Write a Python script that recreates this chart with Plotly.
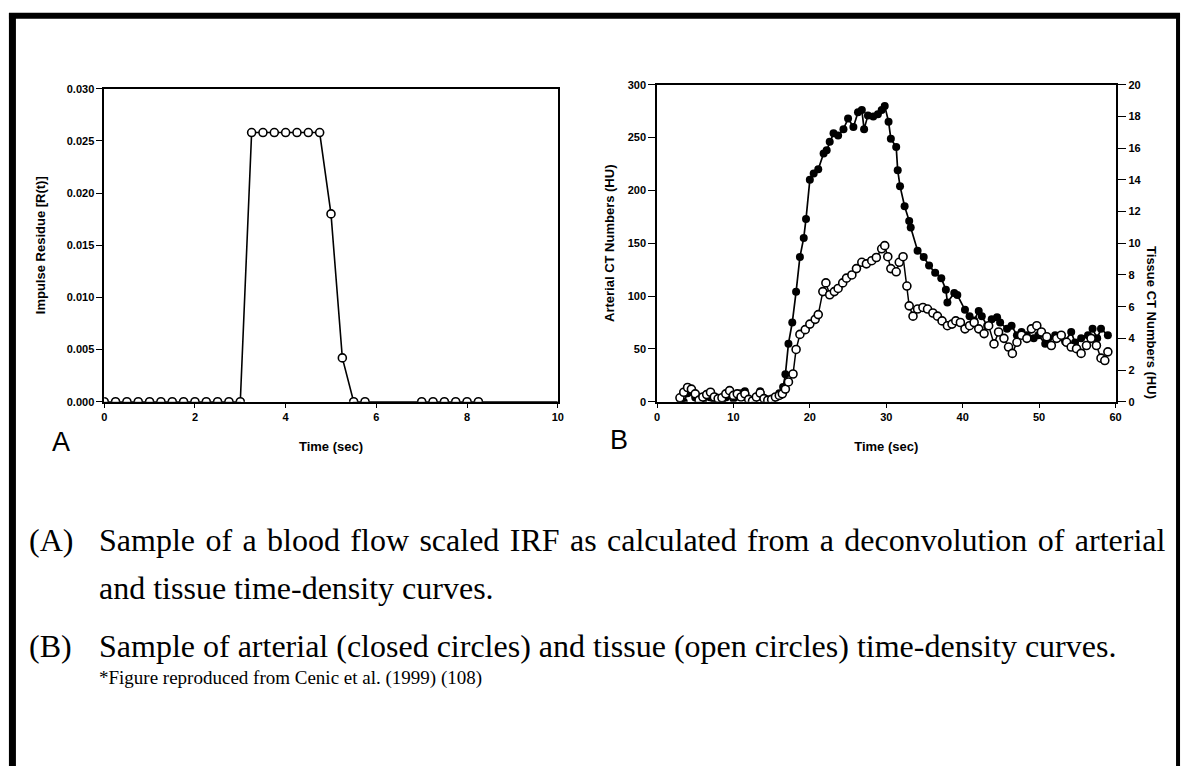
import plotly.graph_objects as go

# Panel A: impulse residue function (blood flow scaled)
irf_t = [0.0, 0.25, 0.5, 0.75, 1.0, 1.25, 1.5, 1.75, 2.0, 2.25, 2.5, 2.75, 3.0,
         3.25, 3.5, 3.75, 4.0, 4.25, 4.5, 4.75,
         5.0, 5.25, 5.5, 5.75,
         7.0, 7.25, 7.5, 7.75, 8.0, 8.25]
irf_r = [0.0] * 13 + [0.0258] * 7 + [0.0180, 0.0042, 0.0, 0.0] + [0.0] * 6
irf_line_end = 10.0

# Panel B: arterial (closed) and tissue (open) time-density curves
art_t = [3.0, 3.5, 4.0, 4.5, 5.0, 5.5, 6.0, 6.5, 7.0, 7.5, 8.0, 8.5, 9.0, 9.5,
         10.0, 10.5, 11.0, 11.5, 12.0, 12.5, 13.0, 13.5, 14.0, 14.5, 15.0, 15.5,
         16.0, 16.5, 16.8, 17.2, 17.7, 18.2, 18.7, 19.2, 19.5, 20.0, 20.5, 21.1,
         21.8, 22.2, 22.6, 23.1, 23.7, 24.4, 25.0, 25.7, 26.3, 26.8, 27.1, 27.6,
         28.3, 28.9, 29.4, 29.8, 30.3, 30.6, 31.3, 31.5, 31.8, 32.4, 33.0, 33.2,
         34.1, 34.9, 35.6, 36.4, 37.2, 37.8, 38.0, 38.9, 39.3, 40.3, 40.9, 41.5,
         42.1, 42.5, 43.2, 43.8, 44.5, 44.9, 45.8, 46.4, 47.1, 47.7, 48.4, 49.3,
         49.9, 50.8, 51.2, 52.1, 52.7, 53.4, 54.2, 54.7, 55.5, 56.4, 57.0, 57.6,
         58.1, 59.0]
art_hu = [3, 0, 8, 10, 4, 2, 0, 5, 4, 2, 3, 1, 4, 6,
          3, 5, 8, 10, 2, 0, 4, 10, 3, 1, 2, 4,
          8, 14, 26, 55, 75, 104, 137, 155, 173, 210, 216, 220,
          235, 238, 246, 254, 252, 258, 268, 260, 274, 276, 258, 271,
          270, 272, 276, 280, 265, 249, 241, 219, 204, 185, 171, 165,
          143, 137, 129, 122, 117, 106, 94, 103, 101, 87, 81, 77,
          86, 81, 72, 78, 80, 75, 69, 72, 63, 66, 63, 60,
          63, 55, 60, 63, 61, 57, 66, 56, 60, 63, 69, 60,
          69, 63]

tis_t = [3.0, 3.5, 4.0, 4.5, 5.0, 5.5, 6.0, 6.5, 7.0, 7.5, 8.0, 8.5, 9.0, 9.5,
         10.0, 10.5, 11.0, 11.5, 12.0, 12.5, 13.0, 13.5, 14.0, 14.5, 15.0, 15.5,
         16.0, 16.4, 16.8, 17.2, 17.8, 18.2, 18.7, 19.4, 20.0, 20.7, 21.1, 21.7,
         22.1, 22.6, 23.2, 23.7, 24.3, 24.8, 25.5, 26.1, 26.8, 27.4, 28.1, 28.7,
         29.4, 29.8, 30.2, 30.6, 31.3, 31.7, 32.2, 32.7, 33.0, 33.5, 34.1, 34.8,
         35.4, 36.1, 36.7, 37.3, 38.0, 38.6, 39.1, 39.7, 40.3, 40.9, 41.5, 42.1,
         42.8, 43.4, 44.1, 44.7, 45.4, 46.0, 46.5, 47.1, 47.7, 48.4, 49.0, 49.7,
         50.3, 51.0, 51.6, 52.3, 52.9, 53.6, 54.2, 54.9, 55.5, 56.2, 56.8, 57.5,
         58.1, 58.6, 59.0]
tis_hu = [0.25, 0.6, 0.9, 0.8, 0.5, 0.1, 0.3, 0.45, 0.6, 0.3, 0.2, 0.25, 0.5, 0.7,
          0.4, 0.5, 0.3, 0.5, 0.15, 0.05, 0.3, 0.55, 0.2, 0.1, 0.15, 0.3,
          0.4, 0.5, 0.8, 1.25, 1.75, 3.3, 4.25, 4.55, 4.9, 5.2, 5.5, 6.95,
          7.5, 6.75, 6.95, 7.15, 7.5, 7.8, 8.0, 8.4, 8.8, 8.7, 8.9, 9.1,
          9.65, 9.85, 9.15, 8.4, 8.2, 8.8, 9.15, 7.3, 6.05, 5.4, 5.85, 5.95,
          5.85, 5.6, 5.4, 5.1, 4.8, 4.9, 5.1, 5.0, 4.6, 4.8, 5.0, 4.6,
          4.3, 4.8, 3.65, 4.4, 4.0, 3.45, 3.05, 3.75, 4.2, 4.0, 4.6, 4.8,
          4.4, 4.1, 3.55, 4.0, 4.2, 3.75, 3.45, 3.35, 3.05, 3.55, 4.0, 3.55,
          2.75, 2.6, 3.15]

W, H = 1189, 772


def px(x):
    return x / W


def py(y):
    return 1 - y / H


tick_font = dict(family="Liberation Sans", size=11, color="black", weight="bold")
title_font = dict(family="Liberation Sans", size=13, color="black", weight="bold")
ax_common = dict(showgrid=False, zeroline=False, showline=True, linecolor="black",
                 linewidth=1.5, ticks="outside", ticklen=4, tickwidth=1.2,
                 tickcolor="black", tickfont=tick_font)

fig = go.Figure()

fig.add_trace(go.Scatter(x=irf_t + [irf_line_end], y=irf_r + [0.0], mode="lines",
                         line=dict(color="black", width=1.6),
                         xaxis="x", yaxis="y", showlegend=False))
fig.add_trace(go.Scatter(x=irf_t, y=irf_r, mode="markers",
                         marker=dict(symbol="circle", size=8, color="white",
                                     line=dict(color="black", width=1.6)),
                         xaxis="x", yaxis="y", showlegend=False))

fig.add_trace(go.Scatter(x=art_t, y=art_hu, mode="lines+markers",
                         line=dict(color="black", width=1.7),
                         marker=dict(symbol="circle", size=8, color="black"),
                         xaxis="x2", yaxis="y2", showlegend=False))
fig.add_trace(go.Scatter(x=tis_t, y=tis_hu, mode="lines+markers",
                         line=dict(color="black", width=1.5),
                         marker=dict(symbol="circle", size=8, color="white",
                                     line=dict(color="black", width=1.6)),
                         xaxis="x2", yaxis="y3", showlegend=False))

fig.update_layout(
    width=W, height=H,
    margin=dict(l=0, r=0, t=0, b=0),
    paper_bgcolor="white", plot_bgcolor="white",
    xaxis=dict(ax_common, domain=[px(102), px(559)], range=[0, 10],
               tickvals=[0, 2, 4, 6, 8, 10], mirror=True, anchor="y",
               title=dict(text="Time (sec)", font=title_font, standoff=20)),
    yaxis=dict(ax_common, domain=[py(402), py(84)], range=[0, 0.030],
               tickvals=[0, 0.005, 0.010, 0.015, 0.020, 0.025, 0.030],
               tickformat=".3f", mirror=True, anchor="x", ticklen=6,
               title=dict(text="Impulse Residue [R(t)]", font=title_font, standoff=18)),
    xaxis2=dict(ax_common, domain=[px(659), px(1121)], range=[0, 60],
                tickvals=[0, 10, 20, 30, 40, 50, 60], mirror=True, anchor="y2",
                title=dict(text="Time (sec)", font=title_font, standoff=20)),
    yaxis2=dict(ax_common, domain=[py(402), py(80)], range=[0, 300],
                tickvals=[0, 50, 100, 150, 200, 250, 300], anchor="x2", ticklen=7,
                title=dict(text="Arterial CT Numbers (HU)", font=title_font, standoff=10)),
    yaxis3=dict(ax_common, domain=[py(402), py(80)], range=[0, 20],
                tickvals=list(range(0, 21, 2)), anchor="x2", overlaying="y2",
                side="right", ticklen=9),
)

# right axis title reads top-to-bottom in the original
fig.add_annotation(x=px(1167), y=py(242), xref="paper", yref="paper",
                   text="Tissue CT Numbers (HU)", textangle=90, showarrow=False,
                   font=title_font)

# panel letters
fig.add_annotation(x=px(47), y=py(443), xref="paper", yref="paper", text="A",
                   showarrow=False, font=dict(family="Liberation Sans", size=27, color="black"))
fig.add_annotation(x=px(621), y=py(441), xref="paper", yref="paper", text="B",
                   showarrow=False, font=dict(family="Liberation Sans", size=27, color="black"))

# caption (first line is justified in the original, so words are spread a little)
cap_font = dict(family="Liberation Serif", size=32, color="black")
captions = [
    (24, 542, "(A)"),
    (95, 542, '<span style="word-spacing:2.4px">Sample of a blood flow scaled IRF as '
              'calculated from a deconvolution of arterial</span>'),
    (95, 591, "and tissue time-density curves."),
    (24, 650, "(B)"),
    (95, 650, "Sample of arterial (closed circles) and tissue (open circles) time-density curves."),
]
for x, y, t in captions:
    fig.add_annotation(x=px(x), y=py(y), xref="paper", yref="paper", text=t,
                       showarrow=False, xanchor="left", yanchor="middle", font=cap_font)
fig.add_annotation(x=px(95), y=py(683), xref="paper", yref="paper",
                   text="*Figure reproduced from Cenic et al. (1999) (108)",
                   showarrow=False, xanchor="left", yanchor="middle",
                   font=dict(family="Liberation Serif", size=19, color="black"))

# page frame
fig.add_shape(type="line", xref="paper", yref="paper", x0=px(9.5), x1=px(9.5), y0=0, y1=py(7),
              line=dict(color="black", width=7))
fig.add_shape(type="line", xref="paper", yref="paper", x0=px(6), x1=px(1186), y0=py(10), y1=py(10),
              line=dict(color="black", width=6))
fig.add_shape(type="line", xref="paper", yref="paper", x0=px(1184), x1=px(1184), y0=0, y1=py(8),
              line=dict(color="black", width=4))

fig.write_html("out.html", config={"displayModeBar": False},
               post_script="document.body.style.margin='0';")
